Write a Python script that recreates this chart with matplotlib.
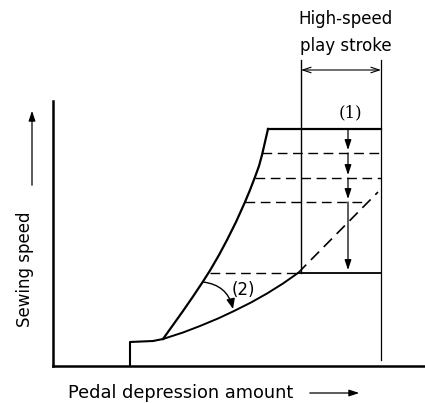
import numpy as np
import matplotlib as mpl
mpl.use("Agg")
from matplotlib import pyplot as plt

# Digitised schematic (x = pedal depression, y = sewing speed, arbitrary units)
low_x = [77, 77, 100, 110]
low_y = [0, 24, 25, 27]

# steep curve (fast response) up to the high-speed plateau
steep_x = [110, 120, 130, 140, 150, 157, 166, 174, 183, 192, 197, 202, 206, 209, 212, 215]
steep_y = [27, 41, 55, 69.5, 84.5, 95.5, 111, 126, 144, 164, 176, 189, 200, 211, 224, 237]

# gentle curve (slow response) up to the reduced plateau
gentle_x = [110, 130, 147, 165, 180, 198, 214, 230, 245]
gentle_y = [27, 33.5, 40, 47.5, 54.5, 63.5, 72.5, 82.5, 93]

# dashed continuation of the gentle curve
cont_x = [245, 325]
cont_y = [93, 174]

top_speed = 237
low_speed = 93
stroke_start = 248
stroke_end = 328

# intermediate speed settings (dashed lines): y, x start, x end
step_y = [213, 188, 164]
step_x0 = [209, 202, 192]
step_x1 = [328, 328, 314]
arrow_x = 295

fig = plt.figure(figsize=(4.25, 4.03), dpi=100)
ax = fig.add_axes([53 / 425, 37 / 403, 372 / 425, 265 / 403])
ax.set_xlim(0, 372)
ax.set_ylim(0, 265)
ax.set_xticks([])
ax.set_yticks([])
for side in ["top", "right"]:
    ax.spines[side].set_visible(False)
for side in ["left", "bottom"]:
    ax.spines[side].set_linewidth(1.8)

k = "black"
ax.plot(low_x, low_y, color=k, lw=1.5)
ax.plot(steep_x, steep_y, color=k, lw=1.6)
ax.plot(gentle_x, gentle_y, color=k, lw=1.4)
ax.plot(cont_x, cont_y, color=k, lw=1.2, linestyle=(0, (7, 4)))

# plateaus
ax.plot([steep_x[-1], stroke_end], [top_speed, top_speed], color=k, lw=1.6)
ax.plot([gentle_x[-1], stroke_end], [low_speed, low_speed], color=k, lw=1.3)

# stroke limit lines
ax.plot([stroke_start, stroke_start], [low_speed, 306], color=k, lw=1.0, clip_on=False)
ax.plot([stroke_end, stroke_end], [6, 306], color=k, lw=0.9, clip_on=False)

# dashed intermediate speeds
for y, x0, x1 in zip(step_y, step_x0, step_x1):
    ax.plot([x0, x1], [y, y], color=k, lw=1.0, linestyle=(0, (7, 4)))
ax.plot([157, gentle_x[-1]], [low_speed, low_speed], color=k, lw=1.0, linestyle=(0, (7, 4)))

# stepping-down arrows
levels = [top_speed] + step_y + [low_speed]
for y0, y1 in zip(levels[:-1], levels[1:]):
    ax.annotate("", xy=(arrow_x, y1 + 3), xytext=(arrow_x, y0),
                arrowprops=dict(arrowstyle="-|>,head_length=0.6,head_width=0.2",
                                color=k, lw=0.9, shrinkA=0, shrinkB=0))

# high-speed play stroke dimension
ax.annotate("", xy=(stroke_start, 296), xytext=(stroke_end, 296), annotation_clip=False,
            arrowprops=dict(arrowstyle="<->,head_length=0.6,head_width=0.2",
                            color=k, lw=0.8, shrinkA=0, shrinkB=0))

ax.text(297, 253, "(1)", family="DejaVu Serif", fontsize=12, ha="center", va="center")
ax.text(190, 76, "(2)", fontsize=12, ha="center", va="center")
ax.annotate("", xy=(180, 57), xytext=(150, 84),
            arrowprops=dict(arrowstyle="-|>,head_length=0.6,head_width=0.25",
                            color=k, lw=1.0, shrinkA=0, shrinkB=0,
                            connectionstyle="arc3,rad=-0.35"))

fig.text(346 / 425, 1 - 19 / 403, "High-speed", fontsize=12, ha="center", va="center")
fig.text(346 / 425, 1 - 46 / 403, "play stroke", fontsize=12, ha="center", va="center")

fig.text(68 / 425, 1 - 393 / 403, "Pedal depression amount", fontsize=12.8,
         ha="left", va="center")
fig.text(25 / 425, 1 - 269 / 403, "Sewing speed", fontsize=12, rotation=90,
         ha="center", va="center")
fig.add_artist(mpl.patches.FancyArrowPatch((307 / 425, 1 - 393 / 403), (362 / 425, 1 - 393 / 403),
                                           transform=fig.transFigure, arrowstyle="-|>,head_length=0.6,head_width=0.2",
                                           mutation_scale=10, color=k, lw=0.9))
fig.add_artist(mpl.patches.FancyArrowPatch((32 / 425, 1 - 188 / 403), (32 / 425, 1 - 108 / 403),
                                           transform=fig.transFigure, arrowstyle="-|>,head_length=0.6,head_width=0.2",
                                           mutation_scale=10, color=k, lw=0.9))

fig.savefig("out.png", dpi=100)
